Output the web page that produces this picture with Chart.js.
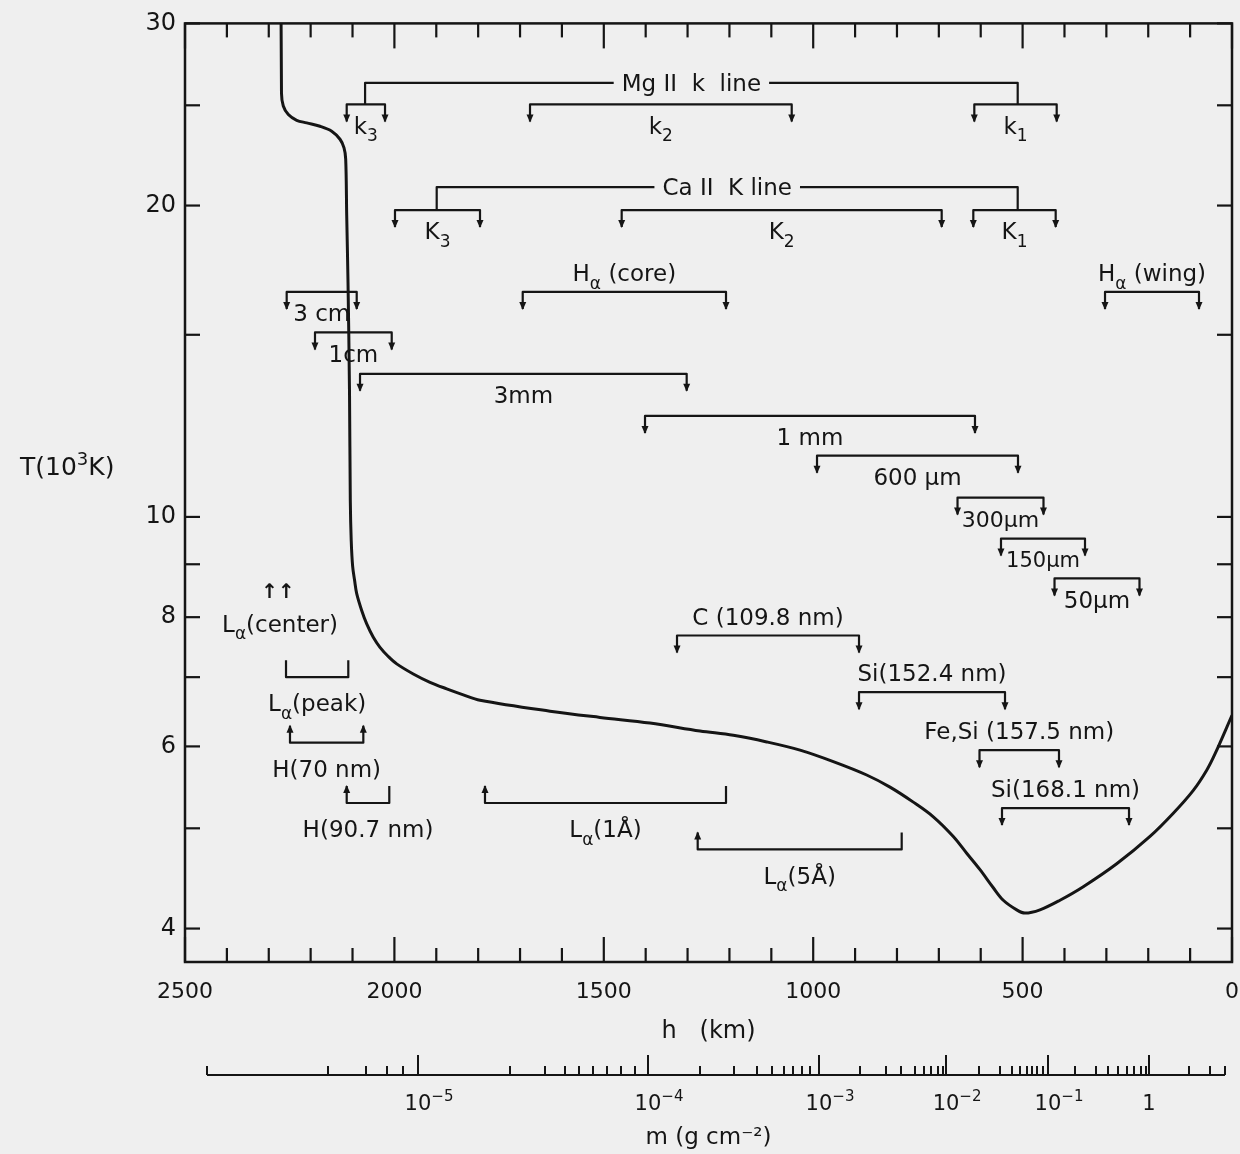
<!DOCTYPE html>
<html><head><meta charset="utf-8">
<script src="https://cdn.jsdelivr.net/npm/chart.js@4.4.1/dist/chart.umd.min.js"></script>
<style>html,body{margin:0;padding:0;background:#efefef;}canvas{display:block;}</style>
</head><body>
<canvas id="c" width="1240" height="1154"></canvas>
<script>
// ---------- data ----------
// temperature curve: height h (km) and T (10^3 K)
const curveH = [2272, 2269.6, 2265.3, 2253.3, 2233.3, 2209.4, 2177.6, 2149.7, 2129.9, 2120.3, 2116.3, 2113.9, 2110.8, 2107.2, 2105.3, 2103.1, 2099.8, 2095.0, 2090.0, 2078.1, 2066.1, 2050.4, 2034.4, 2014.6, 1994.5, 1954.9, 1915.0, 1875.1, 1835.5, 1795.6, 1628.5, 1509.1, 1389.7, 1270.3, 1190.8, 1111.0, 1031.5, 952.0, 872.3, 816.6, 761.0, 713.2, 665.5, 633.5, 601.7, 570.0, 546.1, 514.1, 494.3, 458.5, 410.7, 355.1, 275.3, 195.8, 140.2, 92.4, 60.4, 40.6, 0];
const curveT = [45, 25.68, 24.96, 24.49, 24.18, 24.04, 23.86, 23.60, 23.18, 22.74, 22.18, 19.59, 16.88, 13.21, 10.37, 9.49, 8.97, 8.68, 8.43, 8.12, 7.88, 7.65, 7.48, 7.33, 7.21, 7.05, 6.92, 6.82, 6.73, 6.65, 6.49, 6.40, 6.32, 6.21, 6.15, 6.06, 5.95, 5.80, 5.63, 5.48, 5.30, 5.13, 4.91, 4.73, 4.56, 4.38, 4.26, 4.17, 4.14, 4.17, 4.26, 4.39, 4.62, 4.91, 5.17, 5.44, 5.69, 5.90, 6.43];

// formation-range brackets
const bracketLabels = ['k_{3}','k_{2}','k_{1}','K_{3}','K_{2}','K_{1}','H_{α} (core)','H_{α} (wing)','3 cm','1cm','3mm','1 mm','600 μm','300μm','150μm','50μm','C (109.8 nm)','Si(152.4 nm)','Fe,Si (157.5 nm)','Si(168.1 nm)','L_{α}(1Å)','L_{α}(5Å)','L_{α}(peak)','H(70 nm)','H(90.7 nm)'];
const bracketFrom  = [2113.9, 1676.2, 615.3, 1998.6, 1457.3, 617.7, 1693.6, 303.2, 2257.2, 2189.6, 2082.1, 1401.6, 990.9, 655.4, 551.6, 423.8, 1325.2, 890.6, 602.9, 549.2, 1783.7, 1275.8, 2258.8, 2249.3, 2113.9];
const bracketTo    = [2022.4, 1051.3, 418.6, 1795.6, 693.2, 421.0, 1208.2, 78.8, 2090.0, 2006.4, 1302.1, 613.7, 511.0, 450.1, 351.0, 220.9, 890.6, 542.0, 413.1, 245.9, 1208.2, 788.7, 2110.1, 2074.2, 2012.2];
const bracketLevel = [25.05, 25.05, 25.05, 19.80, 19.80, 19.80, 16.50, 16.50, 16.50, 15.08, 13.75, 12.52, 11.46, 10.44, 9.53, 8.72, 7.68, 6.77, 5.95, 5.23, 5.29, 4.77, 7.00, 6.05, 5.29];
const bracketKind  = ['down','down','down','down','down','down','down','down','down','down','down','down','down','down','down','down','down','down','down','down','up','up','up0','up2','up'];
const labelSide    = ['below','below','below','below','below','below','above','above','below','below','below','below','below','below','below','below','above','above','above','above','below','below','below','below','below'];

// line groups joining sub-brackets
const groupLabels = ['Mg II  k  line', 'Ca II  K line'];
const groupFrom = [2070, 1899.0];
const groupTo = [511.7, 511.7];
const groupLevel = [26.28, 20.84];
const groupChildLevel = [25.05, 19.80];

// L-alpha centre marker (forms above the plotted range)
const centerLabel = 'L_{α}(center)';
const centerH = 2273;
const centerT = 7.89;

// axes
const yTickVals = [4, 5, 6, 7, 8, 9, 10, 15, 20, 25, 30];
const yLabelVals = [4, 6, 8, 10, 20, 30];
const hLabelVals = [2500, 2000, 1500, 1000, 500, 0];
const mMajorH = [1943.7, 1394.5, 986.2, 682.9, 439.4, 198.2];
const mMajorLabels = ['10^{−5}', '10^{−4}', '10^{−3}', '10^{−2}', '10^{−1}', '1'];
const mMinorH = [2447.5, 2158.5, 2067.8, 2017.7, 1979.5, 1724.0, 1640.4, 1592.6, 1559.2, 1525.8, 1492.4, 1458.9, 1425.5, 1270.3, 1189.1, 1134.2, 1098.4, 1069.7, 1048.2, 1026.7, 1007.6, 888.3, 826.2, 790.4, 756.9, 735.4, 718.7, 702.0, 690.1, 604.1, 554.0, 525.3, 506.2, 489.5, 477.6, 465.6, 451.3, 374.9, 324.7, 296.1, 272.2, 250.7, 234.0, 217.3, 205.3, 102.7, 52.5, 16.7];

// ---------- drawing helpers ----------
const INK = '#151515';
const FAM = '"DejaVu Sans", sans-serif';
Chart.defaults.font.family = FAM;
Chart.defaults.color = INK;

function richParts(s) {
  const parts = []; let i = 0, buf = '';
  while (i < s.length) {
    if ((s[i] === '_' || s[i] === '^') && s[i + 1] === '{') {
      if (buf) { parts.push({ t: buf, m: 0 }); buf = ''; }
      const end = s.indexOf('}', i);
      parts.push({ t: s.slice(i + 2, end), m: s[i] === '_' ? 1 : 2 });
      i = end + 1;
    } else { buf += s[i]; i++; }
  }
  if (buf) parts.push({ t: buf, m: 0 });
  return parts;
}
function richWidth(ctx, s, size) {
  let w = 0;
  richParts(s).forEach(p => { ctx.font = (p.m ? Math.round(size * 0.72) : size) + 'px ' + FAM; w += ctx.measureText(p.t).width; });
  return w;
}
function drawRich(ctx, s, x, y, size, align) {
  const parts = richParts(s);
  const w = richWidth(ctx, s, size);
  let cx = align === 'left' ? x : align === 'right' ? x - w : x - w / 2;
  ctx.textAlign = 'left'; ctx.textBaseline = 'alphabetic';
  const base = y + size * 0.36;
  parts.forEach(p => {
    const sz = p.m ? Math.round(size * 0.72) : size;
    ctx.font = sz + 'px ' + FAM;
    const dy = p.m === 1 ? size * 0.32 : p.m === 2 ? -size * 0.42 : 0;
    ctx.fillText(p.t, cx, base + dy);
    cx += ctx.measureText(p.t).width;
  });
}
function seg(ctx, x1, y1, x2, y2) { ctx.beginPath(); ctx.moveTo(x1, y1); ctx.lineTo(x2, y2); ctx.stroke(); }
function arrowHead(ctx, ax, tipY, dir) {
  ctx.beginPath();
  ctx.moveTo(ax - 3.5, tipY - dir * 7);
  ctx.lineTo(ax + 3.5, tipY - dir * 7);
  ctx.lineTo(ax, tipY + dir * 1);
  ctx.closePath(); ctx.fill();
}
const LABEL_SIZE = 23;

const annotations = {
  id: 'annotations',
  afterDatasetsDraw(chart) {
    const { ctx, scales: { x, y } } = chart;
    ctx.save();
    ctx.strokeStyle = INK; ctx.fillStyle = INK; ctx.lineWidth = 2.2; ctx.lineJoin = 'round';
    const LEG = 17;
    bracketLabels.forEach((lab, i) => {
      const x1 = x.getPixelForValue(bracketFrom[i]);
      const x2 = x.getPixelForValue(bracketTo[i]);
      const yy = y.getPixelForValue(bracketLevel[i]);
      const kind = bracketKind[i];
      const dir = kind === 'down' ? 1 : -1;
      ctx.beginPath();
      ctx.moveTo(x1, yy + dir * LEG); ctx.lineTo(x1, yy); ctx.lineTo(x2, yy); ctx.lineTo(x2, yy + dir * LEG);
      ctx.stroke();
      const arrows = kind === 'down' || kind === 'up2' ? [x1, x2] : kind === 'up' ? [x1] : [];
      arrows.forEach(ax => arrowHead(ctx, ax, yy + dir * LEG, dir));
      let ly, size = LABEL_SIZE;
      if (labelSide[i] === 'above') ly = yy - 19;
      else if (dir === 1) {
        ly = yy + 21;
        const room = Math.abs(x2 - x1) - 8;
        while (size > 16 && richWidth(ctx, lab, size) > room) size -= 1;
      } else ly = yy + 26;
      drawRich(ctx, lab, (x1 + x2) / 2, ly, size, 'center');
    });
    groupLabels.forEach((lab, i) => {
      const x1 = x.getPixelForValue(groupFrom[i]);
      const x2 = x.getPixelForValue(groupTo[i]);
      const yy = y.getPixelForValue(groupLevel[i]);
      const yc = y.getPixelForValue(groupChildLevel[i]);
      const cx = (x1 + x2) / 2;
      const w = richWidth(ctx, lab, LABEL_SIZE);
      ctx.beginPath();
      ctx.moveTo(x1, yc); ctx.lineTo(x1, yy); ctx.lineTo(cx - w / 2 - 8, yy);
      ctx.moveTo(cx + w / 2 + 8, yy); ctx.lineTo(x2, yy); ctx.lineTo(x2, yc);
      ctx.stroke();
      drawRich(ctx, lab, cx, yy, LABEL_SIZE, 'center');
    });
    const cxp = x.getPixelForValue(centerH), cyp = y.getPixelForValue(centerT);
    drawRich(ctx, centerLabel, cxp, cyp, LABEL_SIZE, 'center');
    ctx.font = 'bold 20px ' + FAM; ctx.textAlign = 'center'; ctx.textBaseline = 'middle';
    ctx.fillText('↑↑', cxp - 2, cyp - 31);
    ctx.restore();
  },
  afterDraw(chart) {
    const { ctx, chartArea: ca, scales: { x, y, m } } = chart;
    ctx.save();
    ctx.strokeStyle = INK; ctx.fillStyle = INK;
    // frame
    ctx.lineWidth = 2.5;
    ctx.strokeRect(ca.left, ca.top, ca.right - ca.left, ca.bottom - ca.top);
    // inward ticks
    ctx.lineWidth = 2.2;
    x.ticks.forEach(t => {
      const px = x.getPixelForValue(t.value);
      const L = hLabelVals.includes(t.value) ? 25 : 14;
      seg(ctx, px, ca.top, px, ca.top + L);
      seg(ctx, px, ca.bottom, px, ca.bottom - L);
    });
    y.ticks.forEach(t => {
      const py = y.getPixelForValue(t.value);
      seg(ctx, ca.left, py, ca.left + 15, py);
      seg(ctx, ca.right, py, ca.right - 15, py);
    });
    // column-mass axis
    const yl = m.top + 23;
    const all = mMinorH.concat(mMajorH).map(v => m.getPixelForValue(v));
    ctx.lineWidth = 2;
    seg(ctx, Math.min(...all), yl, Math.max(...all), yl);
    mMinorH.forEach(v => { const px = m.getPixelForValue(v); seg(ctx, px, yl, px, yl - 9); });
    mMajorH.forEach((v, i) => {
      const px = m.getPixelForValue(v);
      seg(ctx, px, yl, px, yl - 20);
      const lab = mMajorLabels[i];
      const base = richParts(lab)[0].t;
      ctx.font = '21px ' + FAM;
      const bw = ctx.measureText(base).width;
      drawRich(ctx, lab, px - bw / 2, yl + 27, 21, 'left');
    });
    // vertical-axis title (horizontal text)
    drawRich(ctx, 'T(10^{3}K)', 20, 466, 25, 'left');
    ctx.restore();
  }
};

new Chart(document.getElementById('c'), {
  type: 'line',
  data: {
    datasets: [{
      data: curveH.map((h, i) => ({ x: h, y: curveT[i] })),
      borderColor: INK, borderWidth: 3, pointRadius: 0, fill: false,
      tension: 0.35
    }]
  },
  options: {
    responsive: false, animation: false, events: [],
    layout: { padding: { top: 22, right: 8, left: 0, bottom: 0 } },
    plugins: { legend: { display: false }, tooltip: { enabled: false } },
    scales: {
      x: {
        type: 'linear', position: 'bottom', min: 0, max: 2500, reverse: true,
        grid: { display: false, drawTicks: false }, border: { display: false },
        ticks: { stepSize: 100, autoSkip: false, maxRotation: 0, padding: 17, color: INK,
          font: { size: 22 }, callback: v => hLabelVals.includes(v) ? String(v) : '' },
        title: { display: true, text: 'h   (km)', color: INK, font: { size: 24 }, padding: { top: 0, bottom: 6 } },
        afterFit(s) { s.height = 90; s.paddingLeft = 0; s.paddingRight = 0; }
      },
      m: {
        type: 'linear', position: 'bottom', min: 0, max: 2500, reverse: true,
        grid: { display: false, drawTicks: false }, border: { display: false },
        afterBuildTicks(s) { s.ticks = mMajorH.map(v => ({ value: v })); },
        ticks: { display: false },
        title: { display: true, text: 'm (g cm⁻²)', color: INK, font: { size: 23 }, padding: { top: 0, bottom: 2 } },
        afterFit(s) { s.height = 102; s.paddingLeft = 0; s.paddingRight = 0; }
      },
      y: {
        type: 'logarithmic', position: 'left', min: 3.713, max: 30,
        grid: { display: false, drawTicks: false }, border: { display: false },
        afterBuildTicks(s) { s.ticks = yTickVals.map(v => ({ value: v })); },
        ticks: { autoSkip: false, padding: 9, color: INK, font: { size: 24 },
          callback: v => yLabelVals.includes(v) ? String(v) : '' },
        afterFit(s) { s.width = 185; }
      }
    }
  },
  plugins: [annotations]
});
</script>
</body></html>
